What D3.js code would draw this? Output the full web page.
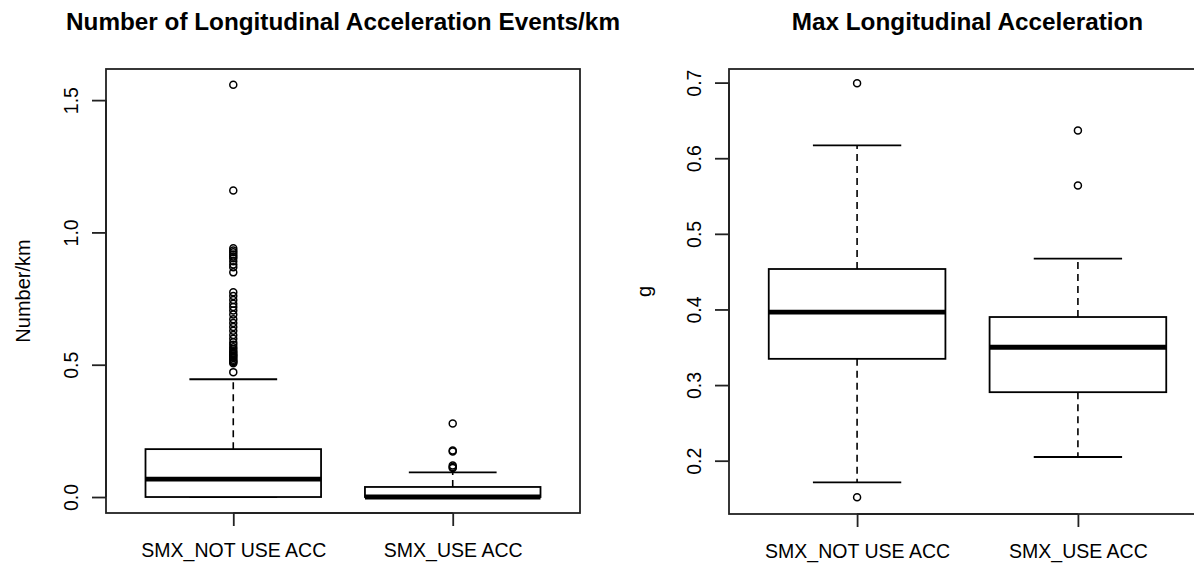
<!DOCTYPE html>
<html>
<head>
<meta charset="utf-8">
<script src="https://cdn.jsdelivr.net/npm/d3@7"></script>
<style>
  html, body { margin: 0; padding: 0; background: #fff; }
  svg { display: block; }
  text { font-family: "Liberation Sans", Arial, sans-serif; fill: #000; }
</style>
</head>
<body>
<svg id="chart" width="1194" height="563"></svg>
<script>
// ---- Data ----
const groups = ["SMX_NOT USE ACC", "SMX_USE ACC"];

// Panel 1: Number of Longitudinal Acceleration Events/km
const eventsLowerWhisker = [0.0, 0.0];
const eventsQ1 = [0.0, 0.0];
const eventsMedian = [0.068, 0.0];
const eventsQ3 = [0.181, 0.038];
const eventsUpperWhisker = [0.445, 0.093];
const eventsOutliers = [
  [1.558, 1.158, 0.940, 0.932, 0.925, 0.917, 0.909, 0.902, 0.891, 0.879, 0.868, 0.849,
   0.774, 0.760, 0.745, 0.730, 0.718, 0.705, 0.690, 0.672, 0.658, 0.643, 0.628, 0.612,
   0.598, 0.585, 0.575, 0.566, 0.558, 0.551, 0.545, 0.540, 0.535, 0.530, 0.525, 0.519,
   0.514, 0.510, 0.506, 0.472],
  [0.278, 0.176, 0.172, 0.119, 0.113, 0.110]
];
const eventsTicks = [0.0, 0.5, 1.0, 1.5];

// Panel 2: Max Longitudinal Acceleration
const maxLowerWhisker = [0.1714, 0.2049];
const maxQ1 = [0.3347, 0.2906];
const maxMedian = [0.3966, 0.350];
const maxQ3 = [0.4535, 0.390];
const maxUpperWhisker = [0.617, 0.4672];
const maxOutliers = [
  [0.699, 0.1515],
  [0.6367, 0.5638]
];
const maxTicks = [0.2, 0.3, 0.4, 0.5, 0.6, 0.7];

const panels = [
  {
    title: "Number of Longitudinal Acceleration Events/km",
    ylab: "Number/km",
    left: 106, right: 580, top: 69, bottom: 513,
    ydomain: [-0.0604, 1.6176],
    ticks: eventsTicks, fmt: d3.format(".1f"),
    lw: eventsLowerWhisker, q1: eventsQ1, med: eventsMedian, q3: eventsQ3,
    uw: eventsUpperWhisker, out: eventsOutliers, ylabX: 30
  },
  {
    title: "Max Longitudinal Acceleration",
    ylab: "g",
    left: 729, right: 1206, top: 69, bottom: 514,
    ydomain: [0.1295, 0.718],
    ticks: maxTicks, fmt: d3.format(".1f"),
    lw: maxLowerWhisker, q1: maxQ1, med: maxMedian, q3: maxQ3,
    uw: maxUpperWhisker, out: maxOutliers, ylabX: 651
  }
];

const svg = d3.select("#chart");
const ink = "#000";
const frame = "#222";

panels.forEach(p => {
  const g = svg.append("g");
  const x = d3.scaleLinear().domain([0.42, 2.58]).range([p.left, p.right]);
  const y = d3.scaleLinear().domain(p.ydomain).range([p.bottom, p.top]);
  const halfBox = x(1.4) - x(1.0);
  const halfStaple = x(1.2) - x(1.0);

  // Title
  g.append("text")
    .attr("x", (p.left + p.right) / 2)
    .attr("y", 30)
    .attr("text-anchor", "middle")
    .style("font-weight", "bold")
    .style("font-size", "24.3px")
    .text(p.title);

  // Y axis label
  g.append("text")
    .attr("transform", `translate(${p.ylabX},${(p.top + p.bottom) / 2}) rotate(-90)`)
    .attr("text-anchor", "middle")
    .style("font-size", "20px")
    .text(p.ylab);

  // Frame
  g.append("rect")
    .attr("x", p.left).attr("y", p.top)
    .attr("width", p.right - p.left).attr("height", p.bottom - p.top)
    .attr("fill", "none").attr("stroke", frame).attr("stroke-width", 1.8);

  // Y axis
  const yAxis = d3.axisLeft(y).tickValues(p.ticks).tickFormat(p.fmt)
    .tickSize(14).tickPadding(0);
  const ya = g.append("g").attr("transform", `translate(${p.left},0)`).call(yAxis);
  ya.select(".domain").attr("d", `M0,${y(p.ticks[0])}V${y(p.ticks[p.ticks.length - 1])}`)
    .attr("stroke", frame).attr("stroke-width", 1.8);
  ya.selectAll(".tick line").attr("stroke", frame).attr("stroke-width", 1.8);
  ya.selectAll(".tick text")
    .attr("x", null).attr("dy", null)
    .attr("transform", "translate(-28,0) rotate(-90)")
    .attr("text-anchor", "middle")
    .attr("fill", "#000")
    .style("font-size", "19.5px")
    .style("font-family", "'Liberation Sans', Arial, sans-serif");

  // X axis
  const xAxis = d3.axisBottom(x).tickValues([1, 2]).tickFormat((d, i) => groups[i])
    .tickSize(13).tickPadding(0);
  const xa = g.append("g").attr("transform", `translate(0,${p.bottom})`).call(xAxis);
  xa.select(".domain").attr("d", `M${x(1)},0H${x(2)}`)
    .attr("stroke", frame).attr("stroke-width", 1.8);
  xa.selectAll(".tick line").attr("stroke", frame).attr("stroke-width", 1.8);
  xa.selectAll(".tick text")
    .attr("y", 44).attr("dy", null)
    .attr("fill", "#000")
    .style("font-size", "19.5px")
    .style("font-family", "'Liberation Sans', Arial, sans-serif");

  // Boxes
  groups.forEach((name, i) => {
    const cx = x(i + 1);
    const bg = g.append("g");
    // whiskers (dashed)
    bg.append("line")
      .attr("x1", cx).attr("x2", cx)
      .attr("y1", y(p.q3[i])).attr("y2", y(p.uw[i]))
      .attr("stroke", ink).attr("stroke-width", 1.6).attr("stroke-dasharray", "7,5");
    bg.append("line")
      .attr("x1", cx).attr("x2", cx)
      .attr("y1", y(p.q1[i])).attr("y2", y(p.lw[i]))
      .attr("stroke", ink).attr("stroke-width", 1.6).attr("stroke-dasharray", "7,5");
    // staples
    [p.uw[i], p.lw[i]].forEach(v => {
      bg.append("line")
        .attr("x1", cx - halfStaple).attr("x2", cx + halfStaple)
        .attr("y1", y(v)).attr("y2", y(v))
        .attr("stroke", ink).attr("stroke-width", 1.8);
    });
    // box
    bg.append("rect")
      .attr("x", cx - halfBox).attr("width", 2 * halfBox)
      .attr("y", y(p.q3[i])).attr("height", y(p.q1[i]) - y(p.q3[i]))
      .attr("fill", "#fff").attr("stroke", ink).attr("stroke-width", 1.8);
    // median
    bg.append("line")
      .attr("x1", cx - halfBox).attr("x2", cx + halfBox)
      .attr("y1", y(p.med[i])).attr("y2", y(p.med[i]))
      .attr("stroke", ink).attr("stroke-width", 4.8);
    // outliers
    bg.selectAll("circle.out").data(p.out[i]).enter().append("circle")
      .attr("class", "out")
      .attr("cx", cx).attr("cy", d => y(d)).attr("r", 3.5)
      .attr("fill", "none").attr("stroke", ink).attr("stroke-width", 1.5);
  });
});
</script>
</body>
</html>
